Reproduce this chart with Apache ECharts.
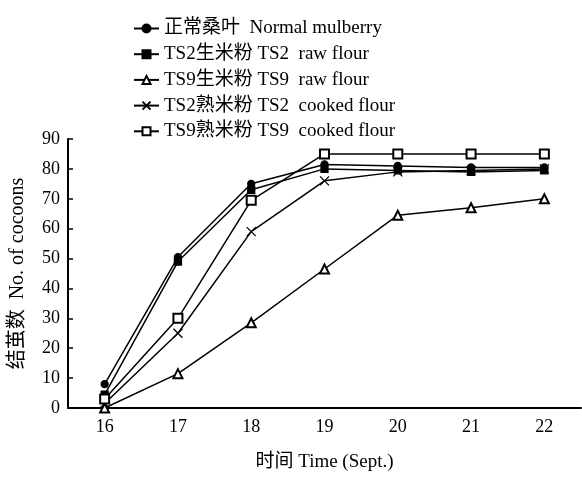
<!DOCTYPE html>
<html>
<head>
<meta charset="utf-8">
<script src="https://cdn.jsdelivr.net/npm/echarts@6/dist/echarts.min.js"></script>
<style>html,body{margin:0;padding:0;background:#fff}#c{width:582px;height:477px}</style>
</head>
<body>
<div id="c"></div>
<script>
const days = ['16', '17', '18', '19', '20', '21', '22'];
const seriesNames = [
  '正常桑叶  Normal mulberry',
  'TS2生米粉 TS2  raw flour',
  'TS9生米粉 TS9  raw flour',
  'TS2熟米粉 TS2  cooked flour',
  'TS9熟米粉 TS9  cooked flour'
];
const normalMulberry = [8, 50.5, 75, 81.5, 81, 80.5, 80.5];
const ts2Raw = [4.5, 49, 73, 80, 79.5, 79, 79.5];
const ts9Raw = [0, 11.5, 28.5, 46.5, 64.5, 67, 70];
const ts2Cooked = [1.5, 25, 59, 76, 79, 79.5, 80];
const ts9Cooked = [3, 30, 69.5, 85, 85, 85, 85];
const yTicks = {min: 0, max: 90, interval: 10};

const FONT = "'Liberation Serif', 'Noto Sans CJK SC', serif";
const seriesData = [normalMulberry, ts2Raw, ts9Raw, ts2Cooked, ts9Cooked];
const symbols = ['circle', 'rect', 'emptyTriangle', 'path://M0,0L10,10M0,10L10,0', 'emptyRect'];
const sizes = [7, 7, 9, 9, 9];

const chart = echarts.init(document.getElementById('c'), null, {renderer: 'canvas'});
chart.setOption({
  animation: false,
  backgroundColor: '#fff',
  legend: {
    orient: 'vertical',
    left: 128,
    top: 14,
    itemWidth: 25,
    itemHeight: 10,
    itemGap: 6.7,
    textStyle: {fontFamily: FONT, fontSize: 19, color: '#000', lineHeight: 19},
    data: seriesNames
  },
  grid: {left: 63, right: 1, top: 139, bottom: 57, containLabel: false},
  xAxis: {
    type: 'category',
    data: days,
    boundaryGap: true,
    name: '时间 Time (Sept.)',
    nameLocation: 'middle',
    nameGap: 45,
    nameTextStyle: {fontFamily: FONT, fontSize: 19, color: '#000'},
    axisLine: {lineStyle: {color: '#000', width: 2}},
    axisTick: {inside: true, length: 5, lineStyle: {color: '#000', width: 1.5}},
    axisLabel: {fontFamily: FONT, fontSize: 18, color: '#000', margin: 10},
    splitLine: {show: false}
  },
  yAxis: {
    type: 'value',
    min: yTicks.min,
    max: yTicks.max,
    interval: yTicks.interval,
    name: '结茧数  No. of cocoons',
    nameLocation: 'middle',
    nameGap: 40,
    nameTextStyle: {fontFamily: FONT, fontSize: 20, color: '#000'},
    axisLine: {show: true, lineStyle: {color: '#000', width: 2}},
    axisTick: {show: true, inside: true, length: 5, lineStyle: {color: '#000', width: 1.5}},
    axisLabel: {fontFamily: FONT, fontSize: 18, color: '#000', margin: 8},
    splitLine: {show: false}
  },
  series: seriesNames.map((name, i) => ({
    name: name,
    type: 'line',
    data: seriesData[i],
    symbol: symbols[i],
    symbolSize: sizes[i],
    showSymbol: true,
    lineStyle: {color: '#000', width: 1.5},
    itemStyle: {color: '#000', borderColor: '#000', borderWidth: 1.3},
    z: 2 + i
  }))
});
</script>
</body>
</html>
